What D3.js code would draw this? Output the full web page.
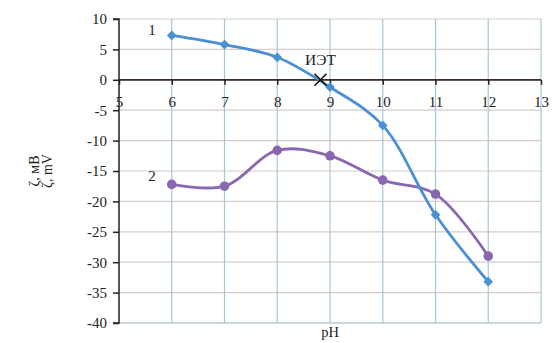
<!DOCTYPE html>
<html><head><meta charset="utf-8">
<script src="https://cdn.jsdelivr.net/npm/d3@7"></script>
<style>body{margin:0;background:#fff}svg{display:block}text{font-family:"Liberation Serif","Times New Roman",serif;fill:#222}</style>
</head><body>
<svg id="c" width="553" height="343"></svg>
<script>
const pH = [6, 7, 8, 9, 10, 11, 12];
const series1 = [7.3, 5.8, 3.7, -1.2, -7.5, -22.2, -33.2];
const series2 = [-17.2, -17.5, -11.6, -12.5, -16.5, -18.8, -29.0];
const xTicks = [5, 6, 7, 8, 9, 10, 11, 12, 13];
const yTicks = [10, 5, 0, -5, -10, -15, -20, -25, -30, -35, -40];
const iep = 8.82;
const FONT = '"Liberation Serif", "Times New Roman", serif';

const svg = d3.select("#c");
const x = d3.scaleLinear().domain([5, 13]).range([119, 541]);
const y = d3.scaleLinear().domain([-40, 10]).range([323, 19]);

// grid
svg.append("g").selectAll("line").data(yTicks).join("line")
  .attr("x1", x(5)).attr("x2", x(13)).attr("y1", d => y(d)).attr("y2", d => y(d))
  .attr("stroke", "#d6cccc").attr("stroke-width", 1.2);
svg.append("g").selectAll("line").data(xTicks.slice(1)).join("line")
  .attr("y1", y(10)).attr("y2", y(-40)).attr("x1", d => x(d)).attr("x2", d => x(d))
  .attr("stroke", "#aac6d6").attr("stroke-width", 1.2);
svg.append("line").attr("x1", x(5)).attr("x2", x(13)).attr("y1", y(-40)).attr("y2", y(-40))
  .attr("stroke", "#aac6d6").attr("stroke-width", 1.2);

// y axis
const yAxis = d3.axisLeft(y).tickValues(yTicks).tickSize(6).tickPadding(6).tickFormat(d => String(d));
const ga = svg.append("g").attr("transform", `translate(${x(5)},0)`).call(yAxis).attr("font-family", FONT);
ga.selectAll("text").style("font-size", "15px").style("font-family", FONT).attr("fill", "#222");
ga.select(".domain").attr("stroke", "#222").attr("stroke-width", 1.5).attr("d", `M-6,${y(10)}H0V${y(-40)}H-6`);
ga.selectAll(".tick line").attr("stroke", "#222").attr("stroke-width", 1.5);

// x axis at y=0
const xAxis = d3.axisBottom(x).tickValues(xTicks).tickSize(5).tickPadding(12).tickFormat(d => String(d));
const gx = svg.append("g").attr("transform", `translate(0,${y(0)})`).call(xAxis).attr("font-family", FONT);
gx.selectAll("text").style("font-size", "15px").style("font-family", FONT).attr("fill", "#222");
gx.select(".domain").attr("stroke", "#3a2a2a").attr("stroke-width", 1.8).attr("d", `M${x(5)},0H${x(13)}`);
gx.selectAll(".tick line").attr("stroke", "#222").attr("stroke-width", 1.5);

// lines
const curve = d3.curveCatmullRom.alpha(0.5);
const line = d3.line().x((d, i) => x(pH[i])).y(d => y(d)).curve(curve);
svg.append("path").attr("d", line(series2)).attr("fill", "none").attr("stroke", "#8a68b0").attr("stroke-width", 2.8);
svg.append("path").attr("d", line(series1)).attr("fill", "none").attr("stroke", "#4a90d4").attr("stroke-width", 2.8);

svg.append("g").selectAll("circle").data(series2).join("circle")
  .attr("cx", (d, i) => x(pH[i])).attr("cy", d => y(d)).attr("r", 4.8).attr("fill", "#8a68b0");
svg.append("g").selectAll("path").data(series1).join("path")
  .attr("d", d3.symbol(d3.symbolDiamond2, 60))
  .attr("transform", (d, i) => `translate(${x(pH[i])},${y(d)})`).attr("fill", "#4a90d4");

// IEP marker
const s = 6;
svg.append("path").attr("d", `M${x(iep)-s},${y(0)-s}L${x(iep)+s},${y(0)+s}M${x(iep)-s},${y(0)+s}L${x(iep)+s},${y(0)-s}`)
  .attr("stroke", "#111").attr("stroke-width", 1.6);
svg.append("text").attr("x", x(iep)).attr("y", y(0) - 15).attr("text-anchor", "middle").style("font-size", "15.5px").text("ИЭТ");

// series labels
svg.append("text").attr("x", 152).attr("y", 35).attr("text-anchor", "middle").style("font-size", "15px").text("1");
svg.append("text").attr("x", 152).attr("y", 181).attr("text-anchor", "middle").style("font-size", "15px").text("2");

// axis titles
svg.append("text").attr("transform", "translate(39,171) rotate(-90)").attr("text-anchor", "middle").style("font-size", "14px").text("ζ, мВ");
svg.append("text").attr("transform", "translate(52,171) rotate(-90)").attr("text-anchor", "middle").style("font-size", "14px").text("ζ, mV");
svg.append("text").attr("x", x(9)).attr("y", 337).attr("text-anchor", "middle").style("font-size", "14.5px").text("pH");
</script>
</body></html>
